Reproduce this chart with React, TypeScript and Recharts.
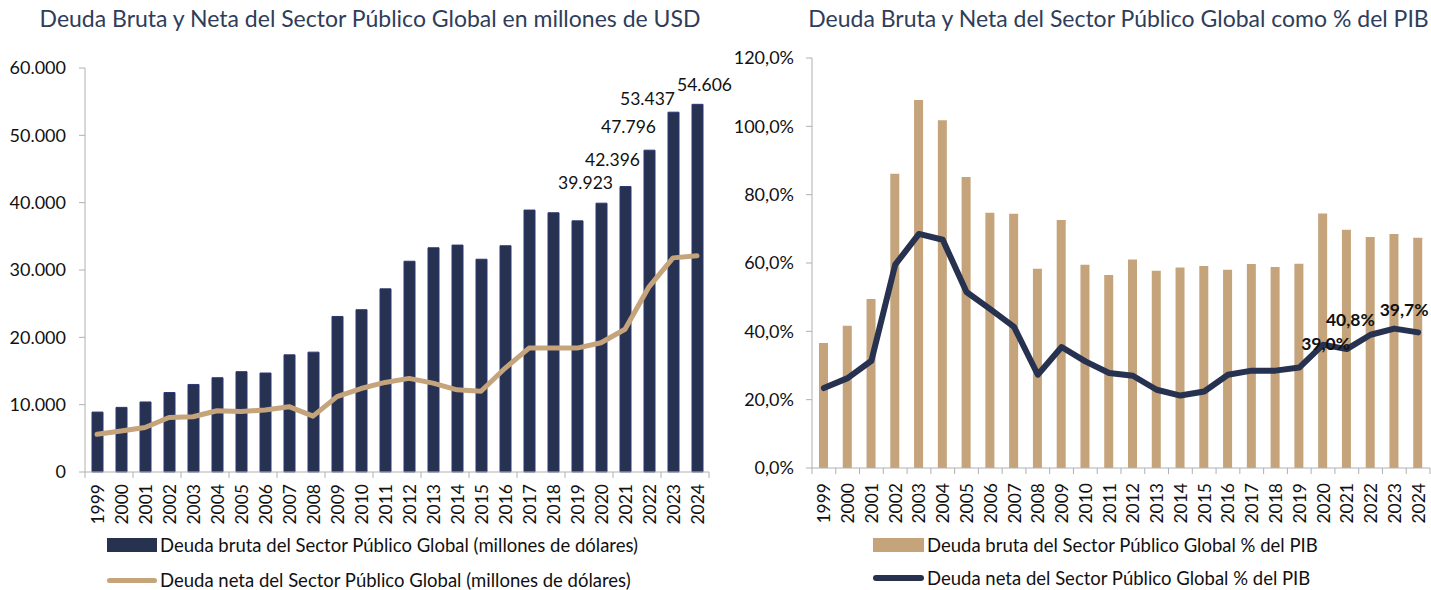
import React from "react";
import {
  ComposedChart,
  Bar,
  Line,
  XAxis,
  YAxis,
  LabelList,
} from "recharts";

// ── data ──
const years = [
  "1999", "2000", "2001", "2002", "2003", "2004", "2005", "2006", "2007",
  "2008", "2009", "2010", "2011", "2012", "2013", "2014", "2015", "2016",
  "2017", "2018", "2019", "2020", "2021", "2022", "2023", "2024",
];

// millones de USD
const deudaBrutaUsd = [
  8900, 9600, 10400, 11800, 13000, 14000, 14900, 14700, 17400, 17800, 23100,
  24100, 27200, 31300, 33300, 33700, 31600, 33600, 38900, 38500, 37300, 39923,
  42396, 47796, 53437, 54606,
];
const deudaNetaUsd = [
  5600, 6100, 6600, 8100, 8200, 9100, 9000, 9200, 9700, 8300, 11200, 12400,
  13300, 13900, 13200, 12200, 12000, 15400, 18400, 18400, 18400, 19200, 21200,
  27500, 31800, 32100,
];

// % del PIB
const deudaBrutaPib = [
  36.6, 41.6, 49.5, 86.1, 107.7, 101.8, 85.2, 74.7, 74.4, 58.3, 72.6, 59.5,
  56.5, 61.0, 57.7, 58.7, 59.1, 58.0, 59.7, 58.8, 59.8, 74.5, 69.7, 67.6, 68.5,
  67.4,
];
const deudaNetaPib = [
  23.4, 26.3, 31.4, 59.5, 68.5, 66.8, 51.5, 46.5, 41.3, 27.3, 35.4, 31.2, 27.8,
  27.0, 22.9, 21.2, 22.4, 27.3, 28.5, 28.5, 29.4, 36.1, 34.8, 39.0, 40.8, 39.7,
];

const usdTicks = [0, 10000, 20000, 30000, 40000, 50000, 60000];
const pibTicks = [0, 20, 40, 60, 80, 100, 120];

// label placement tweaks (dx, dy) keyed by category index
const usdLabelOffsets: Record<number, [number, number]> = {
  21: [-16, -21],
  22: [-13, -27],
  23: [-21, -24],
  24: [-26, -14],
  25: [7, -20],
};
const pibLabelOffsets: Record<number, [number, number]> = {
  23: [-45, 9],
  24: [-44, -9],
  25: [-14, -23],
};

const usdData = years.map((y, i) => ({
  year: y,
  bruta: deudaBrutaUsd[i],
  neta: deudaNetaUsd[i],
}));
const pibData = years.map((y, i) => ({
  year: y,
  bruta: deudaBrutaPib[i],
  neta: deudaNetaPib[i],
}));

// ── styles ──
const FONT = "Lato, 'Open Sans', sans-serif";
const NAVY = "#26324f";
const TAN = "#c5a37b";
const TITLE = "#2f3d5a";
const AXIS = "#b0b0b0";

const fmtMiles = (v: number) => v.toLocaleString("de-DE");
const fmtPct = (v: number) => v.toFixed(1).replace(".", ",") + "%";

// tick with the mark on the category boundary, label rotated
function makeYearTick(band: number, every: number, gap: number) {
  return (props: any) => {
    const { x, y, payload, index } = props;
    const half = band / 2;
    const marks: number[] = [];
    if (index % every === 0) marks.push(x - half);
    if (index === years.length - 1) marks.push(x + half);
    return (
      <g>
        {marks.map((mx, k) => (
          <line key={k} x1={mx} x2={mx} y1={y} y2={y + 6} stroke={AXIS} />
        ))}
        <text
          x={x}
          y={y + gap}
          transform={`rotate(-90 ${x} ${y + gap})`}
          textAnchor="end"
          dominantBaseline="central"
          fontFamily={FONT}
          fontSize={17.5}
          fill="#111"
        >
          {payload.value}
        </text>
      </g>
    );
  };
}

const usdLabel = (p: any) => {
  const off = usdLabelOffsets[p.index];
  if (!off) return null;
  return (
    <text
      x={p.x + p.width / 2 + off[0]}
      y={p.y + off[1]}
      textAnchor="middle"
      dominantBaseline="central"
      fontFamily={FONT}
      fontSize={17.5}
      fill="#111"
    >
      {fmtMiles(p.value)}
    </text>
  );
};

const pibLabel = (p: any) => {
  const off = pibLabelOffsets[p.index];
  if (!off) return null;
  return (
    <text
      x={p.x + off[0]}
      y={p.y + off[1]}
      textAnchor="middle"
      dominantBaseline="central"
      fontFamily={FONT}
      fontSize={17.5}
      fontWeight="bold"
      fill="#111"
    >
      {fmtPct(p.value)}
    </text>
  );
};

const titleStyle: React.CSSProperties = {
  position: "absolute",
  top: 4,
  fontFamily: FONT,
  fontSize: 23,
  color: TITLE,
  whiteSpace: "nowrap",
  textAlign: "center",
};

const legendText: React.CSSProperties = {
  position: "absolute",
  fontFamily: FONT,
  fontSize: 18.5,
  color: "#111",
  whiteSpace: "nowrap",
  lineHeight: "20px",
};

function App() {
  return (
    <div
      style={{
        position: "absolute",
        left: 0,
        top: 0,
        width: 1431,
        height: 590,
        background: "#fff",
        overflow: "hidden",
      }}
    >
      <div style={{ ...titleStyle, left: 0, width: 740 }}>
        Deuda Bruta y Neta del Sector Público Global en millones de USD
      </div>
      <div style={{ ...titleStyle, left: 806, width: 625 }}>
        Deuda Bruta y Neta del Sector Público Global como % del PIB
      </div>

      {/* right chart */}
      <div style={{ position: "absolute", left: 720, top: 0 }}>
        <ComposedChart
          width={711}
          height={545}
          data={pibData}
          margin={{ top: 58, right: 1, left: 10, bottom: 0 }}
        >
          <XAxis
            dataKey="year"
            interval={0}
            height={77}
            tickSize={0}
            tickMargin={0}
            tickLine={false}
            stroke={AXIS}
            tick={makeYearTick(23.77, 1, 15)}
          />
          <YAxis
            width={82}
            domain={[0, 120]}
            ticks={pibTicks}
            tickFormatter={fmtPct}
            stroke={AXIS}
            tickSize={6}
            tickMargin={12}
            tick={{ fontFamily: FONT, fontSize: 18, fill: "#111" }}
          />
          <Bar
            dataKey="bruta"
            fill={TAN}
            barSize={9}
            isAnimationActive={false}
          />
          <Line
            dataKey="neta"
            type="linear"
            stroke={NAVY}
            strokeWidth={6}
            strokeLinecap="round"
            strokeLinejoin="round"
            dot={false}
            isAnimationActive={false}
          >
            <LabelList dataKey="neta" content={pibLabel} />
          </Line>
        </ComposedChart>
      </div>

      {/* left chart (wider so the last label is not clipped) */}
      <div style={{ position: "absolute", left: 0, top: 0 }}>
        <ComposedChart
          width={760}
          height={545}
          data={usdData}
          margin={{ top: 68, right: 51, left: 10, bottom: 0 }}
        >
          <XAxis
            dataKey="year"
            interval={0}
            height={73}
            tickSize={0}
            tickMargin={0}
            tickLine={false}
            stroke={AXIS}
            tick={makeYearTick(24, 2, 12)}
          />
          <YAxis
            width={75}
            domain={[0, 60000]}
            ticks={usdTicks}
            tickFormatter={fmtMiles}
            stroke={AXIS}
            tickSize={6}
            tickMargin={13}
            tick={{ fontFamily: FONT, fontSize: 18, fill: "#111" }}
          />
          <Bar
            dataKey="bruta"
            fill={NAVY}
            stroke="#2c3672"
            barSize={11}
            isAnimationActive={false}
          >
            <LabelList dataKey="bruta" content={usdLabel} />
          </Bar>
          <Line
            dataKey="neta"
            type="linear"
            stroke={TAN}
            strokeWidth={5}
            strokeLinecap="round"
            strokeLinejoin="round"
            dot={false}
            isAnimationActive={false}
          />
        </ComposedChart>
      </div>

      {/* legends */}
      <div
        style={{
          position: "absolute",
          left: 107,
          top: 538,
          width: 50,
          height: 14,
          background: NAVY,
        }}
      />
      <div style={{ ...legendText, left: 160, top: 535 }}>
        Deuda bruta del Sector Público Global (millones de dólares)
      </div>
      <div
        style={{
          position: "absolute",
          left: 107,
          top: 578,
          width: 50,
          height: 5,
          borderRadius: 3,
          background: TAN,
        }}
      />
      <div style={{ ...legendText, left: 160, top: 570 }}>
        Deuda neta del Sector Público Global (millones de dólares)
      </div>

      <div
        style={{
          position: "absolute",
          left: 873,
          top: 538,
          width: 51,
          height: 14,
          background: TAN,
        }}
      />
      <div style={{ ...legendText, left: 927, top: 535 }}>
        Deuda bruta del Sector Público Global % del PIB
      </div>
      <div
        style={{
          position: "absolute",
          left: 873,
          top: 575,
          width: 51,
          height: 6,
          borderRadius: 3,
          background: NAVY,
        }}
      />
      <div style={{ ...legendText, left: 927, top: 568 }}>
        Deuda neta del Sector Público Global % del PIB
      </div>
    </div>
  );
}

export default App;
